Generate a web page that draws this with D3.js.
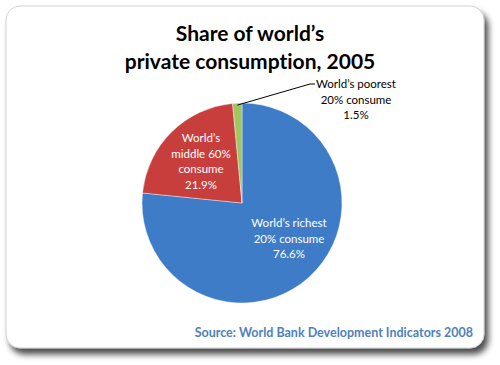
<!DOCTYPE html>
<html><head><meta charset="utf-8">
<script src="https://cdn.jsdelivr.net/npm/d3@7"></script>
<style>body{margin:0;background:#fff}svg{display:block}text{font-variant-ligatures:none}</style>
</head><body>
<script>
const categories = ["World’s richest 20%", "World’s middle 60%", "World’s poorest 20%"];
const values = [76.6, 21.9, 1.5];
const labelLines = [
  ["World’s richest", "20% consume", "76.6%"],
  ["World’s", "middle 60%", "consume", "21.9%"],
  ["World’s poorest", "20% consume", "1.5%"]
];
const titleLines = ["Share of world’s", "private consumption, 2005"];
const sourceText = "Source: World Bank Development Indicators 2008";

const W = 500, H = 365;
const svg = d3.select("body").append("svg").attr("width", W).attr("height", H);
const defs = svg.append("defs");
const f = defs.append("filter").attr("id","sh").attr("x","-10%").attr("y","-10%").attr("width","130%").attr("height","130%");
f.append("feGaussianBlur").attr("in","SourceAlpha").attr("stdDeviation",3);
f.append("feOffset").attr("dx",4).attr("dy",6).attr("result","ob");
f.append("feComponentTransfer").append("feFuncA").attr("type","linear").attr("slope",0.7);
const fm = f.append("feMerge"); fm.append("feMergeNode"); fm.append("feMergeNode").attr("in","SourceGraphic");

svg.append("rect").attr("x",6).attr("y",6).attr("width",478).attr("height",342).attr("rx",14)
  .attr("fill","#fff").attr("stroke","#c8c8c8").attr("stroke-width",0.8).attr("filter","url(#sh)");

const colors = [["#3f7cc8","#2d5c98"],["#c73e3d","#932928"],["#a3c560","#7d9a41"]];
colors.forEach((c,i)=>{
  const g = defs.append("linearGradient").attr("id","g"+i).attr("gradientUnits","userSpaceOnUse")
    .attr("x1",0).attr("y1",103).attr("x2",0).attr("y2",303);
  g.append("stop").attr("offset",0).attr("stop-color",c[0]);
  g.append("stop").attr("offset",1).attr("stop-color",c[1]);
});

const cx = 242, cy = 203, r = 100;
const pie = d3.pie().sort(null).value(d=>d)(values);
const arc = d3.arc().innerRadius(0).outerRadius(r);
const gp = svg.append("g").attr("transform",`translate(${cx},${cy})`);
gp.selectAll("path").data(pie).join("path").attr("d",arc)
  .attr("fill",(d,i)=>`url(#g${i})`).attr("stroke","#fff").attr("stroke-width",0.4);

const font = "Lato, 'Open Sans', sans-serif";
svg.append("g").selectAll("text").data(titleLines).join("text")
  .attr("x",250).attr("y",(d,i)=>41+i*28).attr("text-anchor","middle")
  .attr("font-family",font).attr("font-weight","bold").attr("font-size",21).attr("fill","#000").text(d=>d);

function block(lines, x, y0, color){
  svg.append("g").selectAll("text").data(lines).join("text")
    .attr("x",x).attr("y",(d,i)=>y0+i*15.5).attr("text-anchor","middle")
    .attr("font-family",font).attr("font-size",11.5).attr("fill",color).text(d=>d);
}
block(labelLines[0], 289, 227, "#fff");
block(labelLines[1], 201, 142, "#fff");
block(labelLines[2], 356, 88, "#000");

const a = (pie[2].startAngle + pie[2].endAngle)/2;
const px = cx + Math.sin(a)*(r-2), py = cy - Math.cos(a)*(r-2);
svg.append("path").attr("d",`M${px},${py}L${310},${84}L${315},${84}`)
  .attr("fill","none").attr("stroke","#000").attr("stroke-width",1);

svg.append("text").attr("x",473).attr("y",337).attr("text-anchor","end")
  .attr("font-family",font).attr("font-weight","bold").attr("font-size",12.5).attr("fill","#4f81bd").text(sourceText);
</script>
</body></html>
